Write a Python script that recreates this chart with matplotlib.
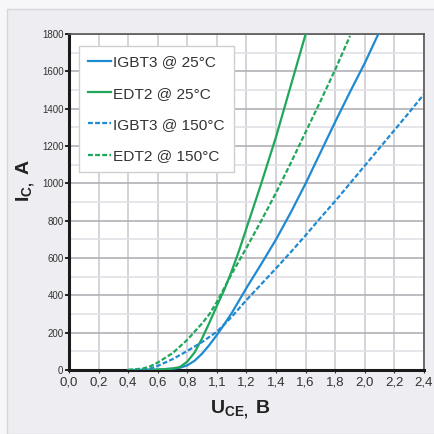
import numpy as np
import matplotlib
matplotlib.use("Agg")
import matplotlib.pyplot as plt
from matplotlib import font_manager
from matplotlib.patches import Rectangle

# output characteristics (U_CE in V, I_C in A)
u_igbt3_25 = [0.4, 0.6, 0.7, 0.75, 0.8, 0.85, 0.9, 0.95, 1.0, 1.05, 1.1, 1.2, 1.3, 1.4, 1.5, 1.6, 1.7, 1.8, 1.9, 2.0, 2.1]
i_igbt3_25 = [0, 2, 7, 12, 25, 50, 88, 135, 188, 245, 305, 440, 568, 700, 845, 1000, 1165, 1330, 1490, 1645, 1815]

u_edt2_25 = [0.5, 0.6, 0.7, 0.75, 0.8, 0.85, 0.9, 0.95, 1.0, 1.05, 1.1, 1.15, 1.2, 1.3, 1.4, 1.5, 1.6]
i_edt2_25 = [0, 2, 8, 16, 45, 95, 170, 255, 345, 430, 530, 640, 760, 1000, 1250, 1525, 1800]

u_igbt3_150 = [0.4, 0.5, 0.55, 0.6, 0.7, 0.8, 0.9, 1.0, 1.1, 1.2, 1.3, 1.4, 1.5, 1.6, 1.7, 1.8, 1.9, 2.0, 2.1, 2.2, 2.3, 2.4]
i_igbt3_150 = [0, 4, 8, 22, 58, 102, 150, 205, 285, 375, 460, 545, 632, 722, 815, 905, 1000, 1095, 1190, 1285, 1380, 1478]

u_edt2_150 = [0.4, 0.5, 0.55, 0.6, 0.7, 0.8, 0.9, 0.95, 1.0, 1.05, 1.1, 1.2, 1.3, 1.4, 1.5, 1.6, 1.7, 1.8, 1.9]
i_edt2_150 = [0, 8, 20, 40, 90, 162, 250, 300, 365, 440, 515, 655, 800, 950, 1110, 1275, 1440, 1610, 1790]

labels = ["IGBT3 @ 25°C", "EDT2 @ 25°C", "IGBT3 @ 150°C", "EDT2 @ 150°C"]
x_ticks = [0.0, 0.2, 0.4, 0.6, 0.8, 1.0, 1.2, 1.4, 1.6, 1.8, 2.0, 2.2, 2.4]
x_ticklabels = ["0,0", "0,2", "0,4", "0,6", "0,8", "1,1", "1,2", "1,4", "1,6", "1,8", "2,0", "2,2", "2,4"]
y_ticks = list(range(0, 1801, 200))

BLUE = "#1f8ad2"
GREEN = "#1fa85a"

have = {f.name for f in font_manager.fontManager.ttflist}
regular = "Liberation Sans" if "Liberation Sans" in have else "DejaVu Sans"
narrow = "Liberation Sans Narrow" if "Liberation Sans Narrow" in have else regular

plt.rcParams["font.family"] = [regular, "DejaVu Sans"]
plt.rcParams["mathtext.fontset"] = "custom"
plt.rcParams["mathtext.rm"] = narrow + ":bold"
plt.rcParams["mathtext.bf"] = narrow + ":bold"
plt.rcParams["mathtext.default"] = "rm"

fig = plt.figure(figsize=(4.35, 4.34), dpi=100, facecolor="#f7f7f9")
# grey panel behind the chart
fig.patches.append(Rectangle((7 / 435, 0), 1, 1 - 9 / 434, transform=fig.transFigure,
                             facecolor="#ededf2", edgecolor="#d6d6dc", linewidth=1.0, zorder=-10))

ax = fig.add_axes([69 / 435, 1 - 370 / 434, 355 / 435, 336 / 434])
ax.set_facecolor("white")

ax.plot(u_igbt3_25, i_igbt3_25, color=BLUE, lw=1.6, label=labels[0], zorder=3)
ax.plot(u_edt2_25, i_edt2_25, color=GREEN, lw=1.6, label=labels[1], zorder=3)
ax.plot(u_igbt3_150, i_igbt3_150, color=BLUE, lw=1.6, ls=(0, (2.2, 1.0)), label=labels[2], zorder=3)
ax.plot(u_edt2_150, i_edt2_150, color=GREEN, lw=1.6, ls=(0, (2.2, 1.0)), label=labels[3], zorder=3)

ax.set_xlim(0, 2.4)
ax.set_ylim(0, 1800)
ax.set_xticks(x_ticks)
ax.set_xticklabels(x_ticklabels, fontsize=9.5, family=narrow, color="#333333")
ax.set_yticks(y_ticks)
ax.set_yticklabels([str(v) for v in y_ticks], fontsize=7, family=narrow, color="#333333")
ax.set_yticks(range(100, 1800, 200), minor=True)
ax.tick_params(axis="y", which="major", direction="out", length=3, width=1.2, pad=1)
ax.tick_params(axis="y", which="minor", length=0)
ax.tick_params(axis="x", direction="out", length=2, width=0.8, pad=3, colors="#333333")

ax.grid(axis="x", which="major", color="#cdcdd2", lw=1.2)
ax.grid(axis="y", which="major", color="#b2b2b6", lw=1.2)
ax.grid(axis="y", which="minor", color="#e2e2e6", lw=1.2)
ax.set_axisbelow(True)

for side in ("left", "bottom"):
    ax.spines[side].set_linewidth(2.2)
    ax.spines[side].set_color("#1a1a1a")
for side in ("top", "right"):
    ax.spines[side].set_linewidth(1.2)
    ax.spines[side].set_color("#555555")

leg = ax.legend(loc="upper left", bbox_to_anchor=(0.028, 0.964), borderaxespad=0,
                fontsize=11.1, handlelength=1.45, handletextpad=0.15, labelspacing=1.12,
                borderpad=0.6, fancybox=False, framealpha=1, edgecolor="#cfcfcf")
leg.get_frame().set_linewidth(1.0)
for t in leg.get_texts():
    t.set_color("#333333")

fig.text(240 / 435, 1 - 410 / 434, "$U_{CE,}$ B", fontsize=14, fontweight="bold",
         family=narrow, ha="center", va="center", color="#222222")
fig.text(26 / 435, 1 - 180 / 434, "$I_{C,}$ A", fontsize=14, fontweight="bold",
         family=narrow, ha="center", va="center", rotation=90, color="#222222")

fig.savefig("out.png", dpi=100, facecolor=fig.get_facecolor())
